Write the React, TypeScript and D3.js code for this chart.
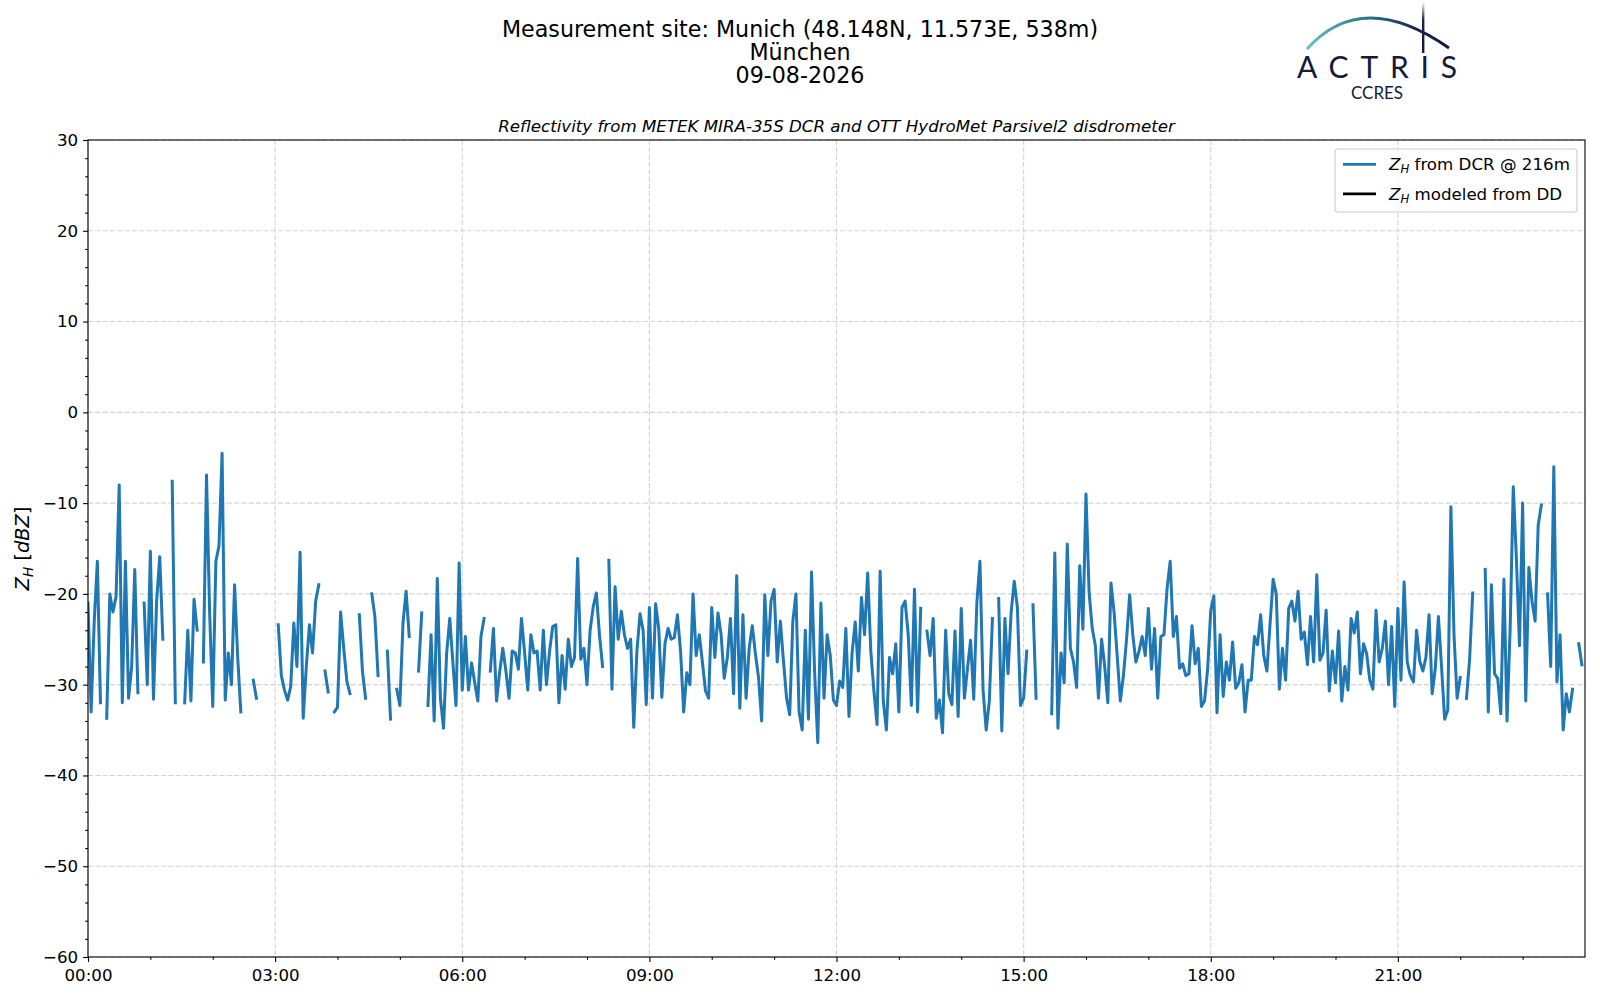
import { useRef, useEffect } from 'react';
import * as d3 from 'd3';

// one DCR sample every 3 minutes from 00:00 UTC, null = no echo
const DAY = Date.UTC(2026, 7, 9);
const STEP_MIN = 3;

const zh00to06: (number | null)[] = [
    -21, -33, -23, -16.4, -32, null, -33.7, -20, -22, -20.3, -8, -32, -16.4, -31.5, -28, -17.3,
    -30.9, null, -21, -30, -15.3, -31.6, -20.8, -15.9, -25, null, null, -7.6, -32, null, null, -32,
    -24, -31.8, -20.6, -24, null, -27.5, -6.9, -22, -32.4, -16.4, -14.7, -4.5, -31.7, -26.5, -30,
    -19, -27, -33, null, null, null, -29.5, -31.5, null, null, null, null, null, null, -23.4,
    -29, -30.6, -31.7, -30.2, -23.2, -28, -15.4, -33.7, -28, -23.4, -26.5, -20.8, -19, null, -28.5,
    -30.8, null, -33, -32.5, -22, -26, -29.6, -31, null, null, -22.3, -28.5, -31.5, null, -20,
    -22.5, -29, null, null, -26.3, -33.8, null, -30.5, -32.3, -23.2, -19.7, -24.7, null, null,
    -28.5, -22.1, null, -32.3, -24.5, -34, -18.3, -31.5, -34.8, -26.5, -22.7, -27.6, -32.3, -16.6,
];

const zh06to12: (number | null)[] = [
    -30.6, -24.7, -30.6, -27.6, -29.8, -31.8, -24.7, -22.7, null, -28.5, -23.8, -31.8, -28.6, -26,
    -28.5, -31.5, -26.3, -26.5, -28.3, -22.7, -26.5, -30.6,
    -24.5, -26.5, -26.3, -30.6, -24, -30, -26.3, -23.6, -23.4, -32, -26.8, -30.5, -25, -28, -27,
    -16.1, -27.2, -26, -30, -24, -21.4, -19.9, -24.5, -28, null, -16.3, -30.5, -19.2, -25, -21.9,
    -24.5, -26, -25, -34.7, -26.3, -22.2, -24, -32.2, -21.5, -31.5, -21.1, -23.8, -31.4, -25.5,
    -23.8, -25, -24.8,
    -22.3, -26.3, -33, -28.7, -30, -20, -26.8, -24.5, -27.5, -30.7, -31.5, -21.5, -27, -22.1, -24.5,
    -29.3, -27, -22.7, -31, -18, -32.6, -22.3, -31.5, -26, -23.5, -26.6, -29.2, -34, -20.1, -26.8,
    -20.8, -19.5, -27.5, -23, -27.4, -31.5, -33.3, -23, -20, -33, -35, -24, -33.8, -17.6, -28.8,
    -36.4, -21,
    -31.5, -24.5, -26.8, -31.7,
];

const zh12to18: (number | null)[] = [
    -32.3, -29.6, -30.3, -23.8, -33.5, -26.5, -23.1, -28.5, -20.4, -24.5, -17.7, -26.3, -30.7, -34.4,
    -17.5, -31.8, -35, -27, -28.8, -25.5, -33, -21.5, -20.8, -24.5, -32.3, -19.5, -33, -21.6, null,
    -24.1, -26.8, -22.7, -33.7, -31.7, -35.3, -24, -31, -32.2, -24.1, -33.5, -21.6, -31.5, -28.2,
    -25.1,
    -31.6, -21, -16.4, -30.6, -35, -31.8, -22.7, null, -20.5, -35.1, -22.7, -28.8, -22, -18.6, -21.5,
    -32.3, -31.5, -26.3, null, -21.2, -31.5, null, null, null, null, -33.2, -15.5, -34.8, -26.5,
    -29.8, -14.5, -26, -27.5, -30.3, -16.9, -23.9, -9, -19.9, -23.8, -25.7, -31.5, -25, -28, -32,
    -18.8, -22, -26.8,
    -31.8, -29, -25, -20.1, -24.5, -27.5, -26.3, -24.7, -26.8, -21.6, -28.3, -23.8, -31.5, -24.7,
    -24.5, -19.4, -16.4, -24.7, -22.5, -28.2, -27.7, -29, -28.8, -23.5, -27.7, -26, -32.4, -31.8,
    -28.3,
];

const zh18to24: (number | null)[] = [
    -21.8, -20.2, -33.1, -24.5, -31.3, -27.5, -29.5, -25.3, -30.4, -29.8, -27.8, -33, -29.5, -29.5,
    -24.7, -25.6, -22.3, -26.8,
    -28.5, -23.4, -18.4, -20, -30.5, -26, -29.5, -21.6, -20.8, -23, -19.7, -25, -24.2, -27.8, -22.5,
    -27.5, -17.9, -27.3, -26.5, -21.8, -30.7, -26.3, -29.8, -24.1, -31.8, -28, -30.6, -22.7, -24.3,
    -22, -28.8, -25.5, -26.6, -29.5, -30.5, -21.8, -27.5, -26, -23, -30, -23.6, -32.4, -21.6, -29.5,
    -18.7, -27.5, -29,
    -29.7, -24, -27.4, -28.5, -27, -22.3, -31, -28.2, -22.5, -28, -33.8, -32.8, -10.4, -24.5, -31.5,
    -29.2, null, -31.5, -27.2, -19.9, null, null, null, -17.3, -33, -19, -28.8, -29.3, -33.2, -18.4,
    -34, -23.8, -8.2, -16.1, -25.7, -10, -31.8, -17.1, -20.8, -23, -12.4, -10.2, null, -20, -28, -6,
    -29.7, -24.5, -35, -31, -33, -30.5, null, -25.5, -27.8,
];

// disdrometer gave nothing this day
const zhModeled: (number | null)[] = [];

const yTicks = [-60, -50, -40, -30, -20, -10, 0, 10, 20, 30];
const xTickHours = [0, 3, 6, 9, 12, 15, 18, 21];

const titleLines = ['Measurement site: Munich (48.148N, 11.573E, 538m)', 'München', '09-08-2026'];
const subtitle = 'Reflectivity from METEK MIRA-35S DCR and OTT HydroMet Parsivel2 disdrometer';

const legendItems = [
    { rest: ' from DCR @ 216m', color: '#1f77b4' },
    { rest: ' modeled from DD', color: '#000000' },
];

const FONT = '"DejaVu Sans", sans-serif';
const L = 88, R = 1585, T = 140, B = 957;

type Pt = { t: Date; v: number | null };

export default function App() {
    const ref = useRef<SVGSVGElement | null>(null);

    useEffect(() => {
        if (!ref.current) return;
        const svg = d3.select(ref.current);
        svg.selectAll('*').remove();

        const hour = (h: number) => new Date(DAY + h * 3600e3);
        const x = d3.scaleUtc().domain([hour(0), hour(24)]).range([L, R]);
        const y = d3.scaleLinear().domain([-60, 30]).range([B, T]);

        svg.append('rect').attr('width', 1600).attr('height', 1000).attr('fill', '#fff');

        // grid
        const grid = svg
            .append('g')
            .attr('stroke', '#d3d3d3')
            .attr('stroke-width', 1.1)
            .attr('stroke-dasharray', '5.1,2.2');
        grid.selectAll('line.gh')
            .data(yTicks)
            .join('line')
            .attr('class', 'gh')
            .attr('x1', L).attr('x2', R)
            .attr('y1', (d) => y(d)).attr('y2', (d) => y(d));
        grid.selectAll('line.gv')
            .data(xTickHours)
            .join('line')
            .attr('class', 'gv')
            .attr('y1', T).attr('y2', B)
            .attr('x1', (d) => x(hour(d))).attr('x2', (d) => x(hour(d)));

        // series
        const toPts = (vals: (number | null)[]): Pt[] =>
            vals.map((v, i) => ({ t: new Date(DAY + i * STEP_MIN * 60e3), v }));
        const line = d3
            .line<Pt>()
            .defined((d) => d.v !== null)
            .x((d) => x(d.t))
            .y((d) => y(d.v as number));
        const dcr = toPts([...zh00to06, ...zh06to12, ...zh12to18, ...zh18to24]);

        svg.append('defs').append('clipPath').attr('id', 'plotclip')
            .append('rect').attr('x', L).attr('y', T).attr('width', R - L).attr('height', B - T);

        svg.append('path')
            .attr('clip-path', 'url(#plotclip)')
            .attr('d', line(dcr))
            .attr('fill', 'none')
            .attr('stroke', '#1f77b4')
            .attr('stroke-width', 3)
            .attr('stroke-linejoin', 'round')
            .attr('stroke-linecap', 'square');
        svg.append('path')
            .attr('d', line(toPts(zhModeled)) || '')
            .attr('fill', 'none')
            .attr('stroke', '#000')
            .attr('stroke-width', 3);

        // axes
        const styleAxis = (g: d3.Selection<SVGGElement, unknown, null, undefined>) => {
            g.select('.domain').remove();
            g.attr('font-size', 16.67).attr('font-family', FONT);
            g.selectAll('line').attr('stroke', '#000').attr('stroke-width', 1.1);
            g.selectAll('text').attr('fill', '#000');
        };
        svg.append('g')
            .attr('transform', `translate(${L},0)`)
            .call(d3.axisLeft(y).tickValues(yTicks).tickSize(4.9).tickPadding(4.9).tickFormat(d3.format('d')))
            .call(styleAxis);
        svg.append('g')
            .attr('transform', `translate(${L},0)`)
            .call(d3.axisLeft(y).tickValues(d3.range(-60, 31, 2).filter((v) => v % 10 !== 0)).tickSize(2.8).tickFormat(() => ''))
            .call(styleAxis);
        svg.append('g')
            .attr('transform', `translate(0,${B})`)
            .call(
                d3.axisBottom(x)
                    .tickValues(xTickHours.map(hour))
                    .tickSize(4.9)
                    .tickPadding(6.8)
                    .tickFormat((d) => d3.utcFormat('%H:%M')(d as Date))
            )
            .call(styleAxis);
        svg.append('g')
            .attr('transform', `translate(0,${B})`)
            .call(
                d3.axisBottom(x)
                    .tickValues(d3.range(1, 24).filter((h) => h % 3 !== 0).map(hour))
                    .tickSize(2.8)
                    .tickFormat(() => '')
            )
            .call(styleAxis);

        svg.append('rect')
            .attr('x', L).attr('y', T).attr('width', R - L).attr('height', B - T)
            .attr('fill', 'none').attr('stroke', '#000').attr('stroke-width', 1.1);

        // y label
        const yl = svg.append('text')
            .attr('transform', `translate(29,${(T + B) / 2}) rotate(-90)`)
            .attr('text-anchor', 'middle')
            .attr('font-family', FONT)
            .attr('font-size', 19.4);
        yl.append('tspan').attr('font-style', 'italic').text('Z');
        yl.append('tspan').attr('font-style', 'italic').attr('font-size', 13.6).attr('dy', 3.5).text('H');
        yl.append('tspan').attr('dy', -3.5).text(' [');
        yl.append('tspan').attr('font-style', 'italic').text('dBZ');
        yl.append('tspan').text(']');

        // titles
        svg.selectAll('text.title')
            .data(titleLines)
            .join('text')
            .attr('class', 'title')
            .attr('x', 800)
            .attr('y', (_, i) => 36.6 + i * 23)
            .attr('text-anchor', 'middle')
            .attr('font-family', FONT)
            .attr('font-size', 22.2)
            .text((d) => d);
        svg.append('text')
            .attr('x', (L + R) / 2)
            .attr('y', 132)
            .attr('text-anchor', 'middle')
            .attr('font-family', FONT)
            .attr('font-style', 'italic')
            .attr('font-size', 16.67)
            .text(subtitle);

        // legend
        const lg = svg.append('g');
        lg.append('rect')
            .attr('x', 1335).attr('y', 149).attr('width', 242).attr('height', 63)
            .attr('rx', 3).attr('fill', '#fff').attr('fill-opacity', 0.8)
            .attr('stroke', '#cccccc').attr('stroke-width', 1.1);
        legendItems.forEach((item, i) => {
            const cy = 164.3 + i * 29.6;
            lg.append('line')
                .attr('x1', 1343).attr('x2', 1376).attr('y1', cy).attr('y2', cy)
                .attr('stroke', item.color).attr('stroke-width', 2.78);
            const t = lg.append('text')
                .attr('x', 1389).attr('y', cy + 6)
                .attr('font-family', FONT).attr('font-size', 16.67);
            t.append('tspan').attr('font-style', 'italic').text('Z');
            t.append('tspan').attr('font-style', 'italic').attr('font-size', 11.7).attr('dy', 3).text('H');
            t.append('tspan').attr('dy', -3).text(item.rest);
        });

        // logo
        const defs = svg.select('defs');
        const grad = defs.append('linearGradient').attr('id', 'arcgrad').attr('x1', '0%').attr('x2', '100%');
        grad.append('stop').attr('offset', '0%').attr('stop-color', '#62c2bf');
        grad.append('stop').attr('offset', '45%').attr('stop-color', '#2b6f86');
        grad.append('stop').attr('offset', '75%').attr('stop-color', '#1b2450');
        grad.append('stop').attr('offset', '100%').attr('stop-color', '#141a3c');
        const vgrad = defs.append('linearGradient').attr('id', 'igrad').attr('x1', '0%').attr('x2', '0%').attr('y1', '0%').attr('y2', '100%');
        vgrad.append('stop').attr('offset', '0%').attr('stop-color', '#ffffff');
        vgrad.append('stop').attr('offset', '35%').attr('stop-color', '#1b2450');
        vgrad.append('stop').attr('offset', '100%').attr('stop-color', '#141a3c');

        const logo = svg.append('g');
        logo.append('path')
            .attr('d', 'M1307,49 Q1362,-12.5 1449,48')
            .attr('fill', 'none')
            .attr('stroke', 'url(#arcgrad)')
            .attr('stroke-width', 3);
        logo.append('rect')
            .attr('x', 1422).attr('y', 2).attr('width', 2.4).attr('height', 51)
            .attr('fill', 'url(#igrad)');
        logo.append('text')
            .attr('x', 1297).attr('y', 78)
            .attr('font-family', 'Lato, "Open Sans", sans-serif')
            .attr('font-size', 30)
            .attr('fill', '#141a3c')
            .attr('textLength', 160)
            .attr('lengthAdjust', 'spacing')
            .text('ACTRIS');
        logo.append('text')
            .attr('x', 1377).attr('y', 99)
            .attr('text-anchor', 'middle')
            .attr('font-family', 'Lato, "Open Sans", sans-serif')
            .attr('font-size', 17)
            .attr('fill', '#141a3c')
            .text('CCRES');
    }, []);

    return (
        <svg
            ref={ref}
            width={1600}
            height={1000}
            style={{ position: 'absolute', left: 0, top: 0, display: 'block' }}
        />
    );
}
